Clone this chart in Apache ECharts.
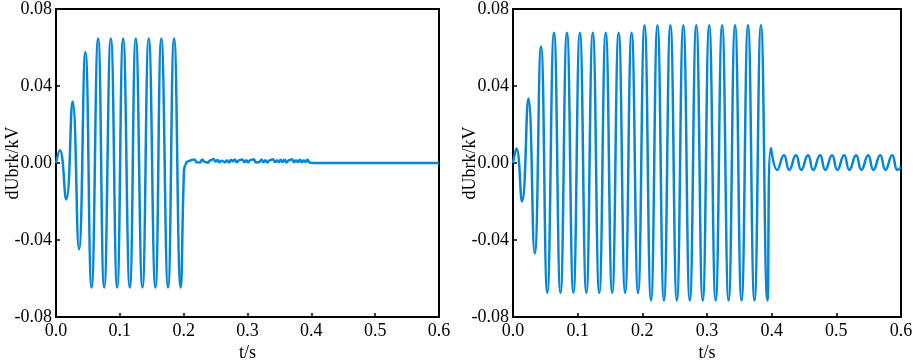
<!DOCTYPE html>
<html>
<head>
<meta charset="utf-8">
<script src="https://cdn.jsdelivr.net/npm/echarts@6/dist/echarts.min.js"></script>
<style>
  html, body { margin: 0; padding: 0; background: #fff; }
  #container { width: 913px; height: 361px; }
</style>
</head>
<body>
<div id="container"></div>
<script>
// tick labels
var xTicks = [0, 0.1, 0.2, 0.3, 0.4, 0.5, 0.6];
var yTicks = [-0.08, -0.04, 0, 0.04, 0.08];

// left panel: growing oscillation, cleared at 0.2 s
var leftWave = [
    [0, 0], [0.006, 0.0066], [0.016, -0.0189], [0.026, 0.032], [0.036, -0.0448],
    [0.046, 0.0575], [0.0557, -0.0647], [0.066, 0.0647], [0.0755, -0.0647],
    [0.0859, 0.0647], [0.0958, -0.0647], [0.1052, 0.0647], [0.1156, -0.0647],
    [0.125, 0.0647], [0.1354, -0.0647], [0.1453, 0.0647], [0.1557, -0.0647],
    [0.165, 0.0647], [0.1755, -0.0647], [0.185, 0.0647], [0.1953, -0.0647],
    [0.2005, -0.004], [0.2025, -0.001]
];
// left panel: small ripple 0.2 - 0.4 s, then flat
var leftNoise = [
    [0.2025, -0.001], [0.205, 0.0006], [0.208, 0.0003], [0.211, 0.0014], [0.214, 0.0005],
    [0.217, 0.0019], [0.22, 0.0004], [0.223, 0.0011], [0.226, 0.0002], [0.229, 0.0020],
    [0.232, 0.0007], [0.235, 0.0016], [0.238, 0.0001], [0.241, 0.0012], [0.244, 0.0004],
    [0.247, 0.0021], [0.25, 0.0006], [0.253, 0.0017], [0.256, 0.0002], [0.259, 0.0013],
    [0.262, 0.0019], [0.265, 0.0003], [0.268, 0.0015], [0.271, 0.0001], [0.274, 0.0018],
    [0.277, 0.0007], [0.28, 0.0020], [0.283, 0.0002], [0.286, 0.0013], [0.289, 0.0004],
    [0.292, 0.0019], [0.295, 0.0003], [0.298, 0.0016], [0.301, 0.0001], [0.304, 0.0015],
    [0.307, 0.0006], [0.31, 0.0020], [0.313, 0.0002], [0.316, 0.0012], [0.319, 0.0005],
    [0.322, 0.0019], [0.325, 0.0002], [0.328, 0.0016], [0.331, 0.0001], [0.334, 0.0013],
    [0.337, 0.0006], [0.34, 0.0020], [0.343, 0.0003], [0.346, 0.0015], [0.349, 0.0002],
    [0.352, 0.0018], [0.355, 0.0004], [0.358, 0.0019], [0.361, 0.0001], [0.364, 0.0013],
    [0.367, 0.0006], [0.37, 0.0020], [0.373, 0.0002], [0.376, 0.0016], [0.379, 0.0003],
    [0.382, 0.0018], [0.385, 0.0002], [0.388, 0.0015], [0.391, 0.0004], [0.394, 0.0019],
    [0.397, 0.0002], [0.4, 0.0012], [0.402, 0], [0.6, 0]
];

// right panel: oscillation lasting to 0.4 s
var rightWave = [
    [0, 0], [0.0053, 0.0075], [0.014, -0.020], [0.0238, 0.0335], [0.0335, -0.047],
    [0.0433, 0.0605], [0.053, -0.0675], [0.0634, 0.0676], [0.0734, -0.0675],
    [0.0834, 0.0676], [0.0934, -0.0675], [0.1034, 0.0676], [0.1134, -0.0675],
    [0.1234, 0.0676], [0.1334, -0.0675], [0.1434, 0.0676], [0.1534, -0.0675],
    [0.1634, 0.0676], [0.1734, -0.0675], [0.1834, 0.0676], [0.1934, -0.0675],
    [0.2034, 0.0715], [0.2134, -0.0714], [0.2234, 0.0715], [0.2334, -0.0714],
    [0.2434, 0.0715], [0.2534, -0.0714], [0.2634, 0.0715], [0.2734, -0.0714],
    [0.2834, 0.0715], [0.2934, -0.0714], [0.3034, 0.0715], [0.3134, -0.0714],
    [0.3234, 0.0715], [0.3334, -0.0714], [0.3434, 0.0715], [0.3534, -0.0714],
    [0.3634, 0.0715], [0.3734, -0.0714], [0.3834, 0.0715], [0.3934, -0.0714],
    [0.3988, 0.0078]
];
// right panel: residual ripple after 0.4 s
var rightTail = [
    [0.4085, -0.0036], [0.419, 0.0040], [0.4271, -0.0036], [0.4376, 0.0040],
    [0.4457, -0.0036], [0.4562, 0.0040], [0.4643, -0.0036], [0.4748, 0.0040],
    [0.4829, -0.0036], [0.4934, 0.0040], [0.5015, -0.0036], [0.512, 0.0040],
    [0.5201, -0.0036], [0.5306, 0.0040], [0.5387, -0.0036], [0.5492, 0.0040],
    [0.5573, -0.0036], [0.5678, 0.0040], [0.5759, -0.0036], [0.5864, 0.0040],
    [0.5945, -0.0036], [0.6, -0.0022]
];

var lineColor = '#0586d6';
var font = '"Liberation Serif", serif';

function makeX(idx) {
    return {
        type: 'value',
        gridIndex: idx,
        min: xTicks[0],
        max: xTicks[xTicks.length - 1],
        interval: 0.1,
        name: 't/s',
        nameLocation: 'middle',
        nameGap: 27,
        nameMoveOverlap: false,
        nameTextStyle: { color: '#000', fontFamily: font, fontSize: 18 },
        axisLine: { show: true, onZero: false, lineStyle: { color: '#000', width: 2 } },
        axisTick: { show: true, inside: true, length: 4, lineStyle: { color: '#000', width: 1.5 } },
        axisLabel: {
            color: '#000', fontFamily: font, fontSize: 18, margin: 5,
            formatter: function (v) { return v.toFixed(1); }
        },
        splitLine: { show: false }
    };
}

function makeY(idx) {
    return {
        type: 'value',
        gridIndex: idx,
        min: yTicks[0],
        max: yTicks[yTicks.length - 1],
        interval: 0.04,
        name: 'dUbrk/kV',
        nameLocation: 'middle',
        nameGap: 34,
        nameMoveOverlap: false,
        nameTextStyle: { color: '#000', fontFamily: font, fontSize: 18 },
        axisLine: { show: true, onZero: false, lineStyle: { color: '#000', width: 2 } },
        axisTick: { show: true, inside: true, length: 4, lineStyle: { color: '#000', width: 1.5 } },
        axisLabel: {
            color: '#000', fontFamily: font, fontSize: 18, margin: 4,
            formatter: function (v) { return v.toFixed(2); }
        },
        splitLine: { show: false }
    };
}

function makeLine(idx, data, smooth) {
    return {
        type: 'line',
        xAxisIndex: idx,
        yAxisIndex: idx,
        data: data,
        smooth: smooth,
        showSymbol: false,
        animation: false,
        lineStyle: { color: lineColor, width: 2.5 }
    };
}

var myChart = echarts.init(document.getElementById('container'));
myChart.setOption({
    animation: false,
    grid: [
        { left: 56, right: 474, top: 9, bottom: 44, outerBoundsMode: 'none', containLabel: false,
          show: true, borderColor: '#000', borderWidth: 2 },
        { left: 513, right: 12, top: 9, bottom: 44, outerBoundsMode: 'none', containLabel: false,
          show: true, borderColor: '#000', borderWidth: 2 }
    ],
    xAxis: [makeX(0), makeX(1)],
    yAxis: [makeY(0), makeY(1)],
    series: [
        makeLine(0, leftWave, 0.5),
        makeLine(0, leftNoise, false),
        makeLine(1, rightWave.concat(rightTail), 0.5)
    ]
});
</script>
</body>
</html>
